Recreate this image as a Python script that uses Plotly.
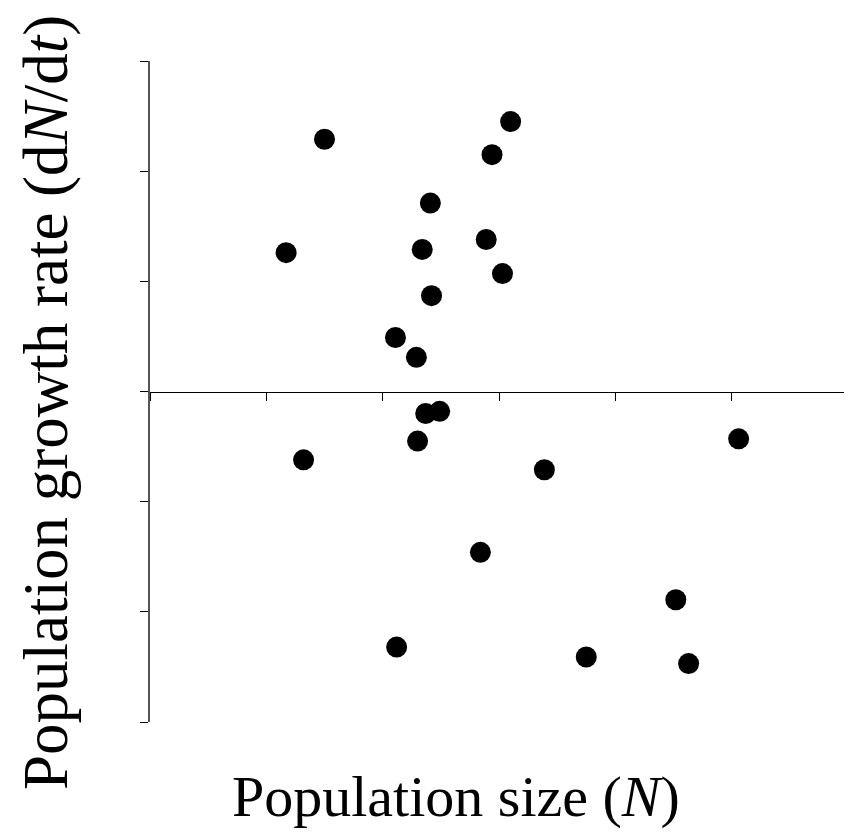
import plotly.graph_objects as go

# Population size (N) -- arbitrary units
population_size = [1.50, 3.10, 2.94, 2.41, 1.17, 2.34, 2.89, 3.03, 2.42, 2.11, 2.29,
                   2.37, 2.49, 2.30, 1.32, 3.39, 5.06, 2.84, 4.52, 2.12, 3.75, 4.63]
# Population growth rate (dN/dt)
growth_rate = [2.29, 2.45, 2.15, 1.71, 1.26, 1.29, 1.38, 1.07, 0.87, 0.49, 0.31,
               -0.20, -0.18, -0.45, -0.62, -0.71, -0.43, -1.46, -1.89, -2.32, -2.41, -2.47]

x_ticks = [0, 1, 2, 3, 4, 5, 6]
y_ticks = [-3, -2, -1, 0, 1, 2, 3]

FONT = "Liberation Serif, Times New Roman, serif"

fig = go.Figure(go.Scatter(
    x=population_size, y=growth_rate, mode="markers",
    marker=dict(size=21, color="black", line=dict(width=0)),
    hoverinfo="skip", showlegend=False,
))

fig.update_layout(
    width=844, height=832,
    margin=dict(l=142, r=4, t=53, b=118),
    paper_bgcolor="white", plot_bgcolor="white",
    font=dict(family=FONT, color="black"),
    xaxis=dict(range=[0, 6], tickvals=x_ticks, showticklabels=False,
               ticks="outside", ticklen=8, tickwidth=1, tickcolor="black",
               showline=True, linecolor="black", linewidth=1,
               showgrid=False, zeroline=False, anchor="free", position=0.5),
    yaxis=dict(range=[-3, 3], tickvals=y_ticks, showticklabels=False,
               ticks="outside", ticklen=8, tickwidth=1, tickcolor="black",
               showline=True, linecolor="#555555", linewidth=1.5,
               showgrid=False, zeroline=False),
    annotations=[
        dict(text="Population size (<i>N</i>)", xref="paper", yref="paper",
             x=0.439, y=-0.112, xanchor="center", yanchor="middle", showarrow=False,
             font=dict(family=FONT, size=58, color="black")),
        dict(text="Population growth rate (d<i>N</i>/d<i>t</i>)", xref="paper", yref="paper",
             x=-0.150, y=0.483, xanchor="center", yanchor="middle", textangle=-90,
             showarrow=False, font=dict(family=FONT, size=63, color="black")),
    ],
)

fig.write_html("out.html")
